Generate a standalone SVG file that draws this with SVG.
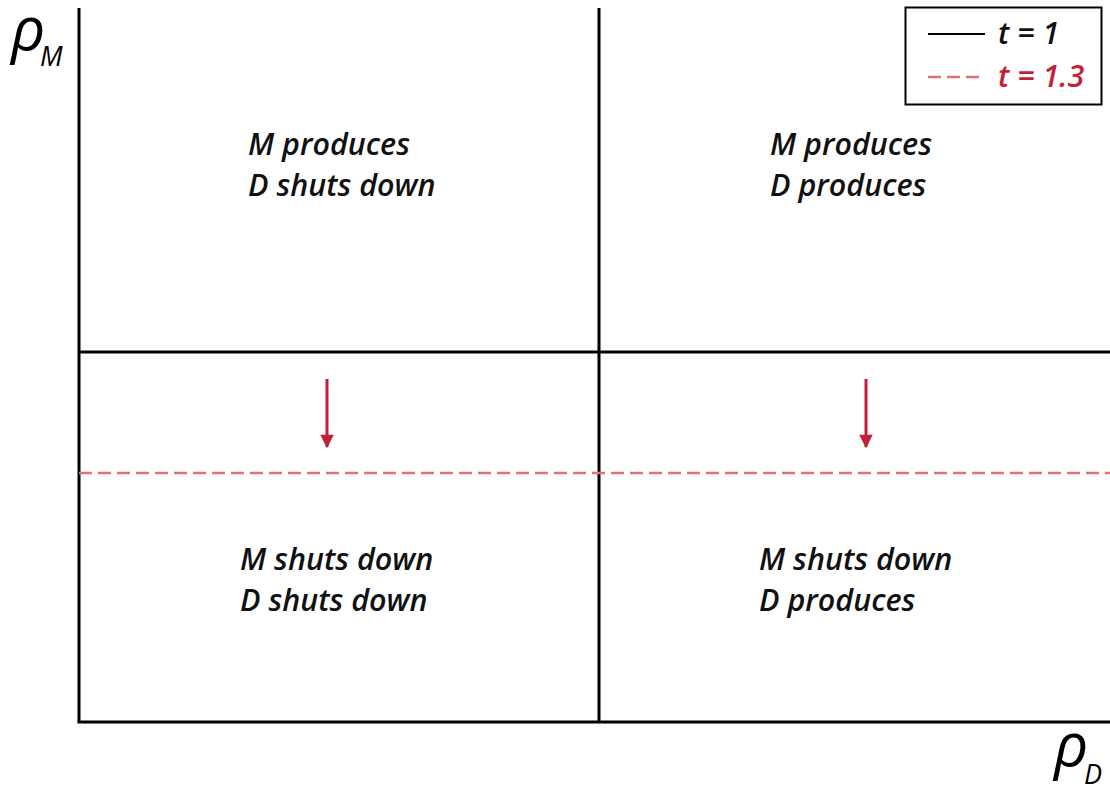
<svg xmlns="http://www.w3.org/2000/svg" width="1110" height="790" viewBox="0 0 1110 790">
<defs>
<style>
.ax{stroke:#000;stroke-width:3;fill:none}
.lbl{font-family:"Open Sans","Liberation Sans",sans-serif;font-style:italic;font-weight:600;font-size:30.5px;fill:#111}
.sym{font-family:"Open Sans","Liberation Sans",sans-serif;font-style:italic;fill:#000}
.dash{stroke:#e0707c;stroke-width:2.5;stroke-dasharray:13 6;fill:none}
.arr{stroke:#c41e3a;stroke-width:3;fill:none}
</style>
<marker id="ah" viewBox="0 0 10 10" refX="9" refY="5" markerWidth="5.5" markerHeight="4.5" orient="auto" markerUnits="strokeWidth">
<path d="M0,0 L10,5 L0,10 z" fill="#c41e3a"/>
</marker>
</defs>
<rect width="1110" height="790" fill="#fff"/>
<g id="axes">
<line class="ax" x1="79" y1="8" x2="79" y2="722"/>
<line class="ax" x1="77.5" y1="722" x2="1110" y2="722"/>
<text class="sym" x="11" y="50" font-size="60">ρ<tspan font-size="27" x="40" y="66">M</tspan></text>
<text class="sym" x="1054" y="766" font-size="60">ρ<tspan font-size="27" x="1084" y="784">D</tspan></text>
</g>
<g id="connectors">
<line class="ax" x1="599" y1="8" x2="599" y2="722"/>
<line class="ax" x1="79" y1="352" x2="1110" y2="352"/>
<line class="dash" x1="79" y1="473" x2="1110" y2="473"/>
<line class="arr" x1="327" y1="379" x2="327" y2="447" marker-end="url(#ah)"/>
<line class="arr" x1="866" y1="379" x2="866" y2="447" marker-end="url(#ah)"/>
</g>
<g id="q1"><text class="lbl" x="248" y="155">M produces</text><text class="lbl" x="248" y="196">D shuts down</text></g>
<g id="q2"><text class="lbl" x="770" y="155">M produces</text><text class="lbl" x="770" y="196">D produces</text></g>
<g id="q3"><text class="lbl" x="240" y="570">M shuts down</text><text class="lbl" x="240" y="611">D shuts down</text></g>
<g id="q4"><text class="lbl" x="759" y="570">M shuts down</text><text class="lbl" x="759" y="611">D produces</text></g>
<g id="legend">
<rect x="905.5" y="7.5" width="196" height="97" fill="#fff" stroke="#000" stroke-width="2"/>
<line x1="928" y1="34" x2="985" y2="34" stroke="#000" stroke-width="2"/>
<line x1="928" y1="77" x2="985" y2="77" stroke="#e0707c" stroke-width="2.5" stroke-dasharray="13 6"/>
<text class="lbl" x="998" y="44" font-size="27">t = 1</text>
<text class="lbl" x="998" y="87" font-size="27" style="fill:#c41e3a">t = 1.3</text>
</g>
</svg>
